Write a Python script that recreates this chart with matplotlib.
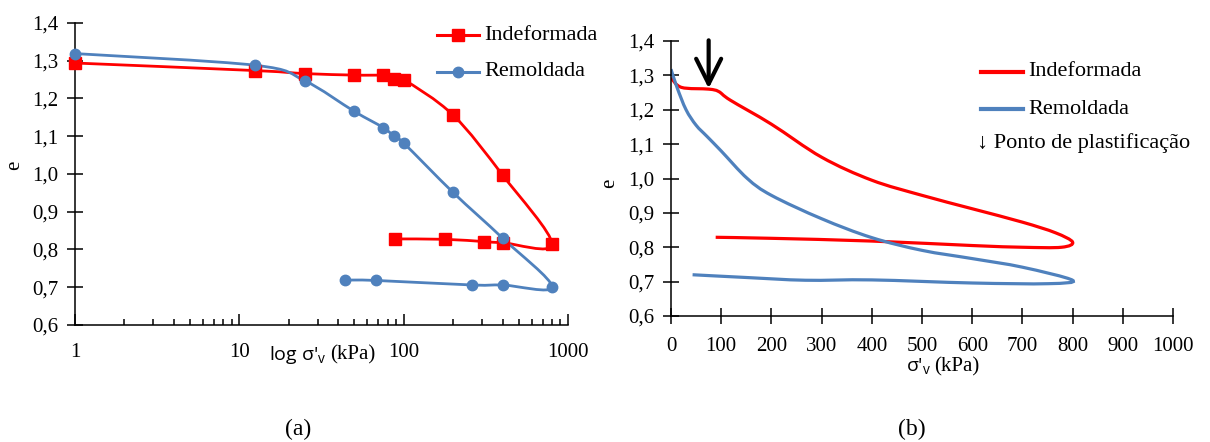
import numpy as np
import matplotlib.pyplot as plt
from matplotlib.path import Path
from matplotlib.patches import PathPatch
from matplotlib.lines import Line2D
from matplotlib.ticker import FuncFormatter, LogLocator, NullFormatter, MultipleLocator

plt.rcParams['font.family'] = ['Liberation Serif', 'DejaVu Serif']

# (a) oedometer points, log scale
ind_a_x = [1, 12.5, 25, 50, 75, 87, 100, 200, 400, 800, 400, 307, 178, 88]
ind_a_e = [1.294, 1.274, 1.266, 1.262, 1.261, 1.252, 1.250, 1.156, 0.997, 0.814,
           0.818, 0.821, 0.827, 0.828]
rem_a_x = [1, 12.5, 25, 50, 75, 87, 100, 200, 400, 800, 400, 261, 68, 44]
rem_a_e = [1.319, 1.288, 1.247, 1.166, 1.123, 1.101, 1.082, 0.951, 0.830, 0.701,
           0.706, 0.706, 0.718, 0.719]

# (b) continuous curves, linear scale
ind_b_x = [0, 21, 75, 95, 118, 200, 300, 400, 500, 600, 700, 766, 800,
           778, 700, 600, 400, 200, 89]
ind_b_e = [1.293, 1.265, 1.260, 1.253, 1.228, 1.158, 1.062, 0.995, 0.951, 0.912,
           0.873, 0.842, 0.815, 0.800, 0.800, 0.805, 0.818, 0.826, 0.829]
rem_b_x = [0, 12, 30, 50, 72, 100, 152, 200, 300, 400, 500, 600, 700, 800,
           751, 600, 400, 268, 150, 43]
rem_b_e = [1.318, 1.265, 1.200, 1.155, 1.122, 1.080, 1.000, 0.951, 0.883, 0.828,
           0.791, 0.767, 0.742, 0.704, 0.694, 0.696, 0.705, 0.704, 0.712, 0.720]

yield_x = 75  # ponto de plastificação (kPa)

RED = '#ff0000'
BLUE = '#4f81bd'
W, H = 1210, 442


def smooth_path(x, y, logx=False):
    # Excel-like smoothed line through the points (cubic Bezier segments)
    u = np.log10(x) if logx else np.asarray(x, float)
    pts = np.column_stack([u, np.asarray(y, float)])
    n = len(pts)
    verts = [pts[0]]
    codes = [Path.MOVETO]
    for i in range(n - 1):
        p0 = pts[max(i - 1, 0)]
        p1 = pts[i]
        p2 = pts[i + 1]
        p3 = pts[min(i + 2, n - 1)]
        verts += [p1 + (p2 - p0) / 6, p2 - (p3 - p1) / 6, p2]
        codes += [Path.CURVE4] * 3
    verts = np.array(verts)
    if logx:
        verts[:, 0] = 10 ** verts[:, 0]
    return Path(verts, codes)


def px(x, y):
    return x / W, 1 - y / H


def box(l, t, r, b):
    return [l / W, 1 - b / H, (r - l) / W, (b - t) / H]


comma = FuncFormatter(lambda v, _: f"{v:.1f}".replace('.', ','))

fig = plt.figure(figsize=(W / 100, H / 100), dpi=100)

# ---------- (a)
ax1 = fig.add_axes(box(75, 23, 568, 325))
ax1.set_xscale('log')
ax1.set_xlim(1, 1000)
ax1.set_ylim(0.6, 1.4)
for xs, es, c, m, ms in [(ind_a_x, ind_a_e, RED, 's', 9), (rem_a_x, rem_a_e, BLUE, 'o', 7.5)]:
    ax1.add_patch(PathPatch(smooth_path(xs, es, logx=True), fill=False, ec=c, lw=2, zorder=2))
    ax1.plot(xs, es, ls='none', marker=m, ms=ms, color=c, zorder=3, clip_on=False)
ax1.xaxis.set_major_locator(LogLocator(base=10))
ax1.xaxis.set_minor_locator(LogLocator(base=10, subs=np.arange(2, 10)))
ax1.xaxis.set_minor_formatter(NullFormatter())
ax1.xaxis.set_major_formatter(FuncFormatter(lambda v, _: f"{v:g}"))
ax1.tick_params(axis='x', which='major', direction='in', length=8, width=1.1, pad=13, labelsize=15)
ax1.tick_params(axis='x', which='minor', direction='in', length=4, width=1.1)

# ---------- (b)
ax2 = fig.add_axes(box(671, 41, 1173, 316))
ax2.set_xlim(0, 1000)
ax2.set_ylim(0.6, 1.4)
for xs, es, c in [(ind_b_x, ind_b_e, RED), (rem_b_x, rem_b_e, BLUE)]:
    ax2.add_patch(PathPatch(smooth_path(xs, es), fill=False, ec=c, lw=2.3, zorder=2))
ax2.xaxis.set_major_locator(MultipleLocator(100))
ax2.tick_params(axis='x', direction='inout', length=12, width=1.1, pad=9, labelsize=15)
ax2.annotate('', xy=(yield_x, 1.262), xytext=(yield_x, 1.402),
             arrowprops=dict(arrowstyle='->,head_length=0.9,head_width=0.45',
                             lw=3, color='black', mutation_scale=20,
                             shrinkA=0, shrinkB=0), annotation_clip=False)

for ax in (ax1, ax2):
    ax.yaxis.set_major_locator(MultipleLocator(0.1))
    ax.yaxis.set_major_formatter(comma)
    ax.tick_params(axis='y', direction='inout', length=12, width=1.1, pad=6, labelsize=15)
    for s in ('top', 'right'):
        ax.spines[s].set_visible(False)
    for s in ('left', 'bottom'):
        ax.spines[s].set_linewidth(1.1)

# y labels
fig.text(*px(15, 165), 'e', fontsize=15, rotation=90, ha='center', va='center')
fig.text(*px(610, 183), 'e', fontsize=15, rotation=90, ha='center', va='center')

# x labels (sans + serif mix as in the original)
sans = ['Open Sans', 'DejaVu Sans']
fig.text(*px(327, 355), "log σ'$_{\\mathregular{v}}$", family=sans, fontsize=14, ha='right', va='center')
fig.text(*px(330, 355), "(kPa)", fontsize=15, ha='left', va='center')
fig.text(*px(931, 367), "σ'$_{\\mathregular{v}}$", family=sans, fontsize=14, ha='right', va='center')
fig.text(*px(934, 367), "(kPa)", fontsize=15, ha='left', va='center')

# panel tags
fig.text(*px(298, 429), '(a)', fontsize=17, ha='center', va='center')
fig.text(*px(912, 429), '(b)', fontsize=17, ha='center', va='center')

# legends
for (y, lab, c, m, ms) in [(35, 'Indeformada', RED, 's', 9), (72, 'Remoldada', BLUE, 'o', 7.5)]:
    x0, y0 = px(437, y)
    x1, _ = px(479, y)
    fig.add_artist(Line2D([x0, x1], [y0, y0], color=c, lw=2.2, transform=fig.transFigure))
    fig.add_artist(Line2D([(x0 + x1) / 2], [y0], color=c, marker=m, ms=ms, transform=fig.transFigure))
    fig.text(*px(484, y), lab, fontsize=16, ha='left', va='center')

for (y, lab, c) in [(72, 'Indeformada', RED), (109, 'Remoldada', BLUE)]:
    x0, y0 = px(981, y)
    x1, _ = px(1023, y)
    fig.add_artist(Line2D([x0, x1], [y0, y0], color=c, lw=3, transform=fig.transFigure))
    fig.text(*px(1028, y), lab, fontsize=16, ha='left', va='center')
fig.text(*px(977, 143), '↓ Ponto de plastificação', fontsize=16, ha='left', va='center',
         family=['Liberation Serif', 'DejaVu Serif'])

fig.savefig('out.png', dpi=100)
